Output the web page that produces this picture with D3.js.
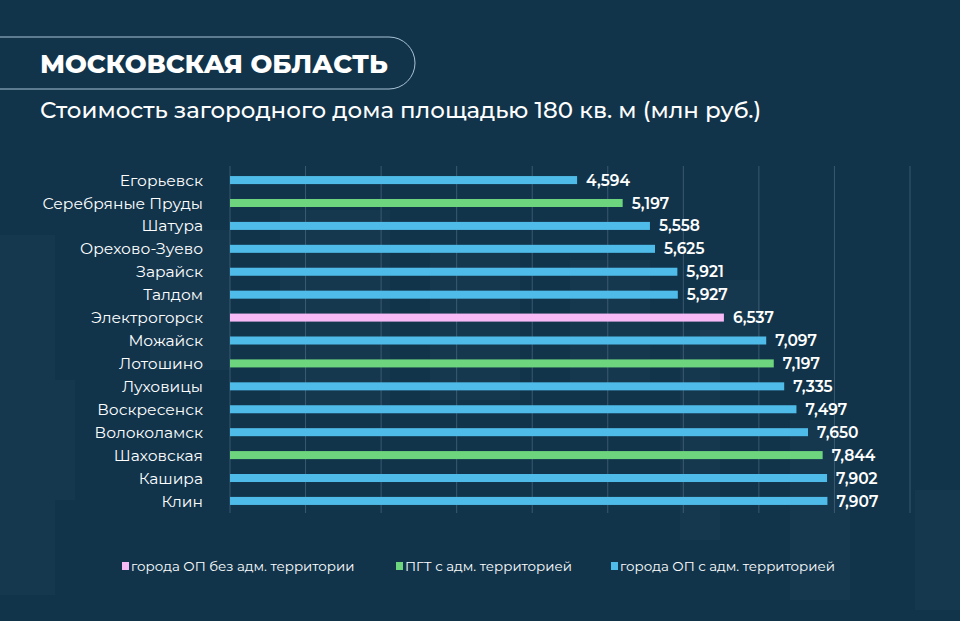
<!DOCTYPE html>
<html><head><meta charset="utf-8">
<script src="https://cdn.jsdelivr.net/npm/d3@7"></script>
<style>
html,body{margin:0;padding:0;background:#11344b;}
svg{display:block;font-family:Montserrat,"Open Sans",sans-serif;}
</style></head>
<body>
<svg id="c" width="960" height="621"></svg>
<script>
const categories = ["Егорьевск","Серебряные Пруды","Шатура","Орехово-Зуево","Зарайск","Талдом","Электрогорск","Можайск","Лотошино","Луховицы","Воскресенск","Волоколамск","Шаховская","Кашира","Клин"];
const values = [4.594,5.197,5.558,5.625,5.921,5.927,6.537,7.097,7.197,7.335,7.497,7.650,7.844,7.902,7.907];
const types = ["city","pgt","city","city","city","city","noadm","city","pgt","city","city","city","pgt","city","city"];
const legendKeys = ["noadm","pgt","city"];
const legendLabels = ["города ОП без адм. территории","ПГТ с адм. территорией","города ОП с адм. территорией"];
const xTicks = [0,1,2,3,4,5,6,7,8,9];
const title = "МОСКОВСКАЯ ОБЛАСТЬ";
const subtitle = "Стоимость загородного дома площадью 180 кв. м (млн руб.)";

const colors = {city:"#4fbbe8", pgt:"#6dd57d", noadm:"#f8baf6"};
const svg = d3.select("#c");

// faint decorative blocks
const deco = [[0,235,55,360],[55,380,20,120],[150,230,80,140],[280,210,110,200],[430,250,90,150],[570,260,80,130],[680,330,40,210],[790,420,60,180],[915,490,45,120],[700,280,60,60]];
svg.selectAll("rect.deco").data(deco).enter().append("rect")
  .attr("x",d=>d[0]).attr("y",d=>d[1]).attr("width",d=>d[2]).attr("height",d=>d[3])
  .attr("fill","#ffffff").attr("opacity",0.025);

// title pill
svg.append("rect").attr("x",-40).attr("y",37).attr("width",455).attr("height",52).attr("rx",26)
  .attr("fill","none").attr("stroke","#a9c3d6").attr("stroke-width",1);
svg.append("text").attr("x",40).attr("y",73).attr("fill","#fff").attr("font-size",26).attr("font-weight",800)
  .text(title);
svg.append("text").attr("x",40).attr("y",118).attr("fill","#fff").attr("font-size",22.9).attr("font-weight",500)
  .text(subtitle);

const x = d3.scaleLinear().domain([0,9]).range([230,910]);
const y = d3.scaleBand().domain(categories).range([168.5,512.5]).paddingInner(0.65).paddingOuter(0.33);

// grid
svg.append("g").selectAll("line").data(xTicks).enter().append("line")
  .attr("x1",d=>x(d)).attr("x2",d=>x(d)).attr("y1",166).attr("y2",513)
  .attr("stroke","#5a7890").attr("stroke-width",1).attr("opacity",0.55);

const data = categories.map((c,i)=>({c,v:values[i],t:types[i]}));
svg.append("g").selectAll("rect").data(data).enter().append("rect")
  .attr("x",x(0)).attr("y",d=>y(d.c)).attr("width",d=>x(d.v)-x(0)).attr("height",y.bandwidth())
  .attr("fill",d=>colors[d.t]);

const fmt = v => d3.format(".3f")(v).replace(".",",");
svg.append("g").selectAll("text").data(data).enter().append("text")
  .attr("x",d=>x(d.v)+9).attr("y",d=>y(d.c)+y.bandwidth()/2).attr("dy","0.36em")
  .attr("fill","#fff").attr("font-size",15.5).attr("font-weight",600).text(d=>fmt(d.v));

svg.append("g").selectAll("text").data(data).enter().append("text")
  .attr("x",203).attr("y",d=>y(d.c)+y.bandwidth()/2).attr("dy","0.36em").attr("text-anchor","end")
  .attr("fill","#fff").attr("font-size",15.5).attr("font-weight",400).text(d=>d.c);

// legend
const lx = [122,396,611];
const lg = svg.append("g").selectAll("g").data(legendKeys).enter().append("g")
  .attr("transform",(d,i)=>`translate(${lx[i]},566)`);
lg.append("rect").attr("x",0).attr("y",-4).attr("width",7).attr("height",8).attr("fill",d=>colors[d]);
lg.append("text").attr("x",9).attr("y",0).attr("dy","0.35em").attr("fill","#fff").attr("font-size",13.4)
  .text((d,i)=>legendLabels[i]);
</script>
</body></html>
